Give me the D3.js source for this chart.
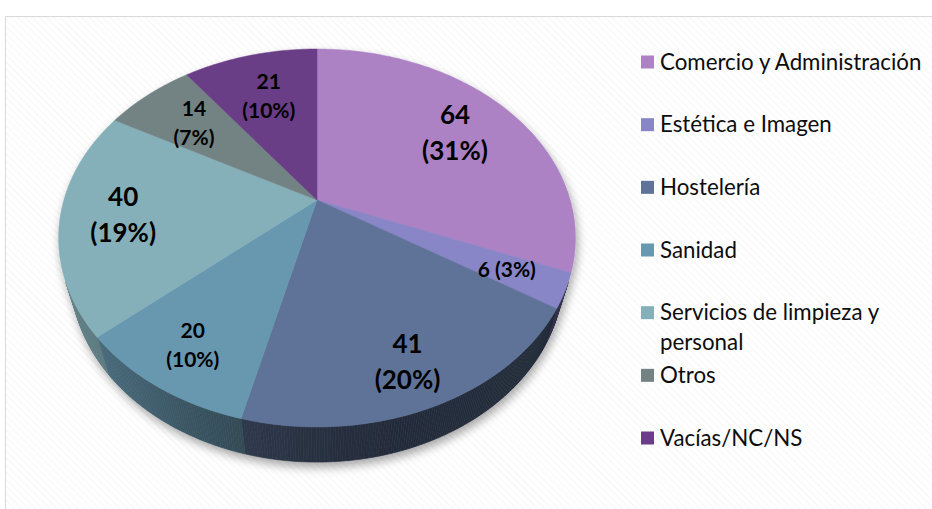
<!DOCTYPE html>
<html>
<head>
<meta charset="utf-8">
<script src="https://cdn.jsdelivr.net/npm/d3@7"></script>
<style>
  html, body { margin: 0; padding: 0; background: #ffffff; }
  svg { display: block; }
</style>
</head>
<body>
<svg id="chart" width="932" height="509"></svg>
<script>
// ---------------- data ----------------
const categories = [
  "Comercio y Administración",
  "Estética e Imagen",
  "Hostelería",
  "Sanidad",
  "Servicios de limpieza y personal",
  "Otros",
  "Vacías/NC/NS"
];
const values = [64, 6, 41, 20, 40, 14, 21];
const colors = ["#ac82c5", "#8886c6", "#5f7399", "#6898b0", "#86b0b9", "#738383", "#6b3d87"];

// ---------------- setup ----------------
const W = 932, H = 509;
const svg = d3.select("#chart");
const defs = svg.append("defs");

const pat = defs.append("pattern").attr("id", "hatch")
  .attr("width", 5).attr("height", 5)
  .attr("patternUnits", "userSpaceOnUse")
  .attr("patternTransform", "rotate(-45)");
pat.append("rect").attr("width", 5).attr("height", 5).attr("fill", "#ffffff");
pat.append("line").attr("x1", 0).attr("y1", 0).attr("x2", 0).attr("y2", 5)
  .attr("stroke", "#f3f3f3").attr("stroke-width", 1.5);

const shadow = defs.append("filter").attr("id", "shadow")
  .attr("x", "-20%").attr("y", "-20%").attr("width", "140%").attr("height", "140%");
shadow.append("feDropShadow").attr("dx", 2).attr("dy", 5)
  .attr("stdDeviation", 5).attr("flood-color", "#000").attr("flood-opacity", 0.35);

// chart area frame
svg.append("rect").attr("x", 5.5).attr("y", 16.5).attr("width", W).attr("height", H)
  .attr("fill", "url(#hatch)").attr("stroke", "#d9d9d9").attr("stroke-width", 1);

// ---------------- 3D perspective projection ----------------
const cx = 317, cy = 200;          // projected pie centre
const D = 1, R = 0.288, f = 879;   // camera distance, radius, focal length
const elev = 45.76 * Math.PI / 180;
const sA = Math.sin(elev), cA = Math.cos(elev);
const depth = 0.066;               // pie thickness

function proj(theta, rf, z) {
  const X = R * rf * Math.sin(theta);
  const Y = -R * rf * Math.cos(theta);
  const yc = Y * sA - z * cA;
  const zc = D - Y * cA - z * sA;
  return [cx + f * X / zc, cy + f * yc / zc];
}

const total = d3.sum(values);
const arcs = d3.pie().sort(null).value(d => d)(values);

// visible range of the outer wall
const camY = D * cA;
const visA = Math.acos(-R / camY), visB = 2 * Math.PI - visA;

const line = d3.line();
const pieG = svg.append("g").attr("filter", "url(#shadow)");

// walls
const shade = th => {
  const c = Math.max(0, Math.cos(th - 250 * Math.PI / 180));
  return 0.38 + 0.36 * c * c;
};
const step = Math.PI / 360;
arcs.forEach((a, i) => {
  const a0 = Math.max(a.startAngle, visA), a1 = Math.min(a.endAngle, visB);
  if (a1 <= a0) return;
  const base = d3.rgb(colors[i]);
  const n = Math.max(1, Math.ceil((a1 - a0) / step));
  for (let k = 0; k < n; k++) {
    const t0 = a0 + (a1 - a0) * k / n, t1 = a0 + (a1 - a0) * (k + 1) / n;
    const s = shade((t0 + t1) / 2);
    const col = d3.rgb(base.r * s, base.g * s, base.b * s).formatHex();
    const pts = [proj(t0, 1, 0), proj(t1, 1, 0), proj(t1, 1, -depth), proj(t0, 1, -depth)];
    pieG.append("path").attr("d", line(pts) + "Z")
      .attr("fill", col).attr("stroke", col).attr("stroke-width", 0.6);
  }
});

// top faces
arcs.forEach((a, i) => {
  const pts = [proj(0, 0, 0)];
  const n = Math.max(4, Math.ceil((a.endAngle - a.startAngle) / (Math.PI / 180)));
  for (let k = 0; k <= n; k++) {
    pts.push(proj(a.startAngle + (a.endAngle - a.startAngle) * k / n, 1, 0));
  }
  pieG.append("path").attr("d", line(pts) + "Z")
    .attr("fill", colors[i]).attr("stroke", colors[i]).attr("stroke-width", 0.5);
});

// data labels
const labelFont = "Lato, 'Open Sans', sans-serif";
arcs.forEach((a, i) => {
  const mid = (a.startAngle + a.endAngle) / 2;
  const rf = 0.75 + 0.07 * (-Math.cos(mid));
  const [x, y] = proj(mid, rf, 0);
  const pct = Math.round(values[i] / total * 100);
  const big = values[i] >= 30;
  const fs = big ? 26 : 21;
  const gap = big ? 36 : 29;
  const t = svg.append("text").attr("text-anchor", "middle")
    .attr("font-family", labelFont).attr("font-weight", "bold")
    .attr("font-size", fs).attr("fill", "#000");
  if (pct < 5) {
    t.append("tspan").attr("x", x).attr("y", y).attr("dy", "0.35em")
      .text(values[i] + " (" + pct + "%)");
  } else {
    t.append("tspan").attr("x", x).attr("y", y - gap / 2).attr("dy", "0.35em").text(values[i]);
    t.append("tspan").attr("x", x).attr("y", y + gap / 2).attr("dy", "0.35em").text("(" + pct + "%)");
  }
});

// ---------------- legend ----------------
const legY = d3.scaleLinear().domain([0, categories.length - 1]).range([62, 438]);
const legX = 641, mk = 13, txtX = 660, maxW = 268, lh = 30;
const leg = svg.append("g");
categories.forEach((c, i) => {
  const y = legY(i);
  leg.append("rect").attr("x", legX).attr("y", y - mk / 2).attr("width", mk).attr("height", mk)
    .attr("fill", colors[i]);
  const t = leg.append("text").attr("font-family", labelFont).attr("font-size", 22.3)
    .attr("fill", "#0d0d0d");
  const words = c.split(" ");
  let lineWords = [], row = 0;
  let ts = t.append("tspan").attr("x", txtX).attr("y", y).attr("dy", "0.35em");
  words.forEach(w => {
    lineWords.push(w);
    ts.text(lineWords.join(" "));
    if (ts.node().getComputedTextLength() > maxW && lineWords.length > 1) {
      lineWords.pop();
      ts.text(lineWords.join(" "));
      lineWords = [w];
      row++;
      ts = t.append("tspan").attr("x", txtX).attr("y", y + row * lh).attr("dy", "0.35em").text(w);
    }
  });
});
</script>
</body>
</html>
